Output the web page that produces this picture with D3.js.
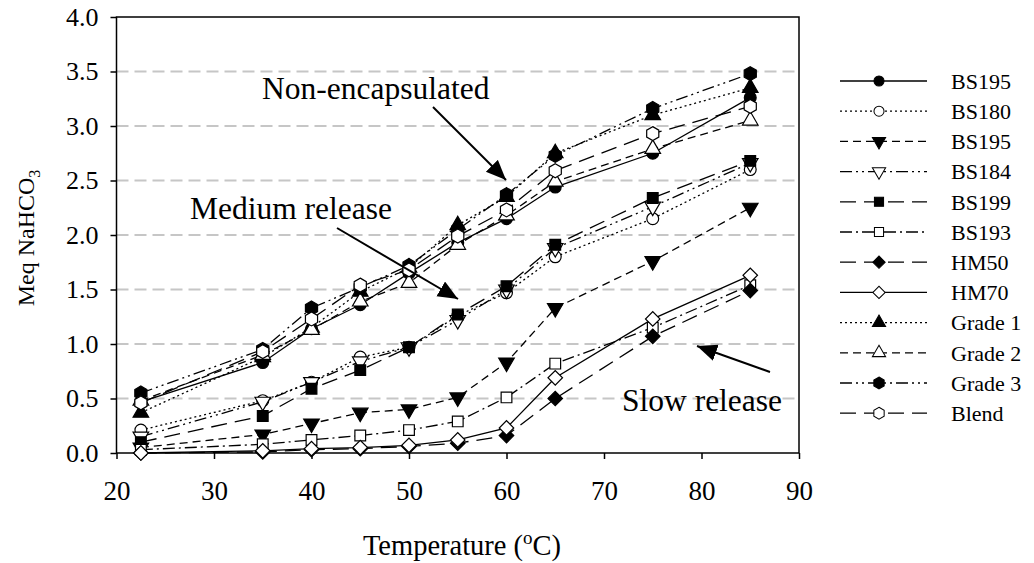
<!DOCTYPE html>
<html>
<head>
<meta charset="utf-8">
<script src="https://cdnjs.cloudflare.com/ajax/libs/d3/7.8.5/d3.min.js"></script>
<style>
  body { margin: 0; background: #fff; }
  text { font-family: "Liberation Serif", "Times New Roman", serif; fill: #000; }
</style>
</head>
<body>
<div id="chart"></div>
<script>
	// temperatures (x) and tick labels
	var temperatures = [22.5, 35, 40, 45, 50, 55, 60, 65, 75, 85];
	var xTicks = [20, 30, 40, 50, 60, 70, 80, 90];
	var yTicks = [0, 0.5, 1.0, 1.5, 2.0, 2.5, 3.0, 3.5, 4.0];

	// series names, in legend order
	var seriesNames = ["BS195", "BS180", "BS195", "BS184", "BS199", "BS193",
	                   "HM50", "HM70", "Grade 1", "Grade 2", "Grade 3", "Blend"];

	// Meq NaHCO3
	var bs195Circle = [0.47, 0.83, 1.14, 1.36, 1.65, 1.93, 2.15, 2.44, 2.75, 3.26];
	var bs180       = [0.21, 0.48, 0.65, 0.88, 0.97, 1.26, 1.47, 1.80, 2.15, 2.60];
	var bs195Tri    = [0.05, 0.17, 0.27, 0.37, 0.40, 0.51, 0.83, 1.33, 1.76, 2.25];
	var bs184       = [0.15, 0.47, 0.65, 0.84, 0.97, 1.22, 1.50, 1.88, 2.26, 2.66];
	var bs199       = [0.10, 0.34, 0.59, 0.76, 0.97, 1.27, 1.53, 1.91, 2.34, 2.68];
	var bs193       = [0.03, 0.08, 0.12, 0.16, 0.21, 0.29, 0.51, 0.82, 1.15, 1.54];
	var hm50        = [0.00, 0.01, 0.03, 0.04, 0.06, 0.09, 0.16, 0.50, 1.07, 1.49];
	var hm70        = [0.00, 0.02, 0.04, 0.05, 0.07, 0.12, 0.23, 0.69, 1.23, 1.63];
	var grade1      = [0.37, 0.88, 1.15, 1.48, 1.70, 2.09, 2.35, 2.75, 3.10, 3.35];
	var grade2      = [0.48, 0.90, 1.13, 1.39, 1.56, 1.91, 2.18, 2.49, 2.79, 3.05];
	var grade3      = [0.55, 0.95, 1.33, 1.52, 1.72, 2.05, 2.37, 2.73, 3.16, 3.48];
	var blend       = [0.46, 0.93, 1.23, 1.54, 1.68, 1.99, 2.23, 2.59, 2.93, 3.18];

	var seriesValues = [bs195Circle, bs180, bs195Tri, bs184, bs199, bs193,
	                    hm50, hm70, grade1, grade2, grade3, blend];

	// look of each series: marker, filled or not, dash pattern
	var markers = ["circle", "circle", "triDown", "triDown", "square", "square",
	               "diamond", "diamond", "triUp", "triUp", "hexagon", "hexagon"];
	var filled  = [true, false, true, false, true, false, true, false, true, false, true, false];
	var dashes  = ["none", "2,3", "8,5", "12,4,2,4,2,4", "16,8", "12,4,2,4",
	               "16,8", "none", "2,3", "8,5", "12,4,2,4,2,4", "16,8"];

	var FontFamily = "Liberation Serif, Times New Roman, serif";

	var svg = d3.select("#chart")
		.append("svg")
		.attr("width", 1034)
		.attr("height", 563)

	var x = d3.scaleLinear().domain([20, 90]).range([116.5, 799]);
	var y = d3.scaleLinear().domain([0, 4]).range([453, 17]);

	/* =========================================
	 *  grid, frame and axes
	 *  ======================================== */
	svg.append("g")
		.selectAll("line")
		.data(yTicks.filter(function(d){ return d > 0 && d < 4; }))
		.join("line")
		.attr("x1", x(20)).attr("x2", x(90))
		.attr("y1", function(d){ return y(d); })
		.attr("y2", function(d){ return y(d); })
		.attr("stroke", "#c6c6c6")
		.attr("stroke-width", 2)
		.attr("stroke-dasharray", "12,6")

	svg.append("rect")
		.attr("x", x(20)).attr("y", y(4))
		.attr("width", x(90) - x(20))
		.attr("height", y(0) - y(4))
		.attr("fill", "none")
		.attr("stroke", "#000")
		.attr("stroke-width", 1.5)

	var xAxis = svg.append("g")
		.attr("transform", "translate(0," + y(0) + ")")
		.call(d3.axisBottom(x).tickValues(xTicks).tickSize(6).tickSizeOuter(0).tickPadding(22))
	xAxis.select(".domain").remove();
	xAxis.selectAll("line").attr("stroke-width", 1.5);
	xAxis.selectAll("text")
		.attr("font-family", FontFamily)
		.attr("font-size", 27)
		.attr("dy", "0.71em")

	var yAxis = svg.append("g")
		.attr("transform", "translate(" + x(20) + ",0)")
		.call(d3.axisLeft(y).tickValues(yTicks).tickFormat(d3.format(".1f")).tickSize(6).tickSizeOuter(0).tickPadding(12))
	yAxis.select(".domain").remove();
	yAxis.selectAll("line").attr("stroke-width", 1.5);
	yAxis.selectAll("text")
		.attr("font-family", FontFamily)
		.attr("font-size", 26)

	// axis titles
	var xTitle = svg.append("text")
		.attr("x", 462)
		.attr("y", 555)
		.attr("text-anchor", "middle")
		.attr("font-size", 28.5)
	xTitle.append("tspan").text("Temperature (");
	xTitle.append("tspan").attr("font-size", 19).attr("dy", -11).text("o");
	xTitle.append("tspan").attr("dy", 11).text("C)");

	var yTitle = svg.append("text")
		.attr("transform", "translate(34,238) rotate(-90)")
		.attr("text-anchor", "middle")
		.attr("font-size", 24)
	yTitle.append("tspan").text("Meq NaHCO");
	yTitle.append("tspan").attr("font-size", 16).attr("dy", 6).text("3");

	/* =========================================
	 *  markers
	 *  ======================================== */
	function markerPath(type) {
		if (type == "circle") return d3.symbol(d3.symbolCircle, 110)();
		if (type == "square") return d3.symbol(d3.symbolSquare, 115)();
		if (type == "diamond") return d3.symbol(d3.symbolSquare, 105)();
		if (type == "triUp" || type == "triDown") return d3.symbol(d3.symbolTriangle, 105)();
		// hexagon
		var r = 7, pts = [];
		for (var k = 0; k < 6; k++) {
			var a = Math.PI / 3 * k - Math.PI / 2;
			pts.push([r * Math.cos(a), r * Math.sin(a)]);
		}
		return "M" + pts.join("L") + "Z";
	}
	function markerRotate(type) {
		if (type == "diamond") return 45;
		if (type == "triDown") return 180;
		return 0;
	}

	/* =========================================
	 *  series
	 *  ======================================== */
	var line = d3.line()
		.x(function(d){ return x(d[0]); })
		.y(function(d){ return y(d[1]); })

	seriesValues.forEach(function(vals, i) {
		var pts = temperatures.map(function(t, j){ return [t, vals[j]]; });
		var g = svg.append("g");
		g.append("path")
			.attr("d", line(pts))
			.attr("fill", "none")
			.attr("stroke", "#000")
			.attr("stroke-width", 1.3)
			.attr("stroke-dasharray", dashes[i])
		g.selectAll("path.mk")
			.data(pts)
			.join("path")
			.attr("class", "mk")
			.attr("d", markerPath(markers[i]))
			.attr("transform", function(d){
				return "translate(" + x(d[0]) + "," + y(d[1]) + ") rotate(" + markerRotate(markers[i]) + ")";
			})
			.attr("fill", filled[i] ? "#000" : "#fff")
			.attr("stroke", "#000")
			.attr("stroke-width", 1.2)
	});

	/* =========================================
	 *  annotations with arrows
	 *  ======================================== */
	svg.append("defs").append("marker")
		.attr("id", "arrow")
		.attr("markerUnits", "userSpaceOnUse")
		.attr("markerWidth", 22).attr("markerHeight", 20)
		.attr("refX", 20).attr("refY", 8.5)
		.attr("orient", "auto")
		.append("path")
		.attr("d", "M0,0 L20,8.5 L0,17 Z")
		.attr("fill", "#000")

	var notes = [
		{text: "Non-encapsulated", tx: 262, ty: 99, x1: 433, y1: 107, x2: 506, y2: 180},
		{text: "Medium release", tx: 190, ty: 219, x1: 337, y1: 228, x2: 458, y2: 299},
		{text: "Slow release", tx: 622, ty: 411, x1: 770, y1: 372, x2: 697, y2: 346}
	];
	notes.forEach(function(n) {
		svg.append("text")
			.attr("x", n.tx).attr("y", n.ty)
			.attr("font-size", 31.5)
			.text(n.text)
		svg.append("line")
			.attr("x1", n.x1).attr("y1", n.y1)
			.attr("x2", n.x2).attr("y2", n.y2)
			.attr("stroke", "#000")
			.attr("stroke-width", 2)
			.attr("marker-end", "url(#arrow)")
	});

	/* =========================================
	 *  legend
	 *  ======================================== */
	var legend = svg.append("g")
	seriesNames.forEach(function(name, i) {
		var ly = 81 + i * 30.2;
		var row = legend.append("g");
		row.append("line")
			.attr("x1", 840).attr("x2", 927)
			.attr("y1", ly).attr("y2", ly)
			.attr("stroke", "#000")
			.attr("stroke-width", 1.3)
			.attr("stroke-dasharray", dashes[i])
		row.append("path")
			.attr("d", markerPath(markers[i]))
			.attr("transform", "translate(879," + ly + ") rotate(" + markerRotate(markers[i]) + ") scale(0.85)")
			.attr("fill", filled[i] ? "#000" : "#fff")
			.attr("stroke", "#000")
			.attr("stroke-width", 1.2)
		row.append("text")
			.attr("x", 951)
			.attr("y", ly)
			.attr("dy", "0.35em")
			.attr("font-size", 22)
			.text(name)
	});
</script>
</body>
</html>
